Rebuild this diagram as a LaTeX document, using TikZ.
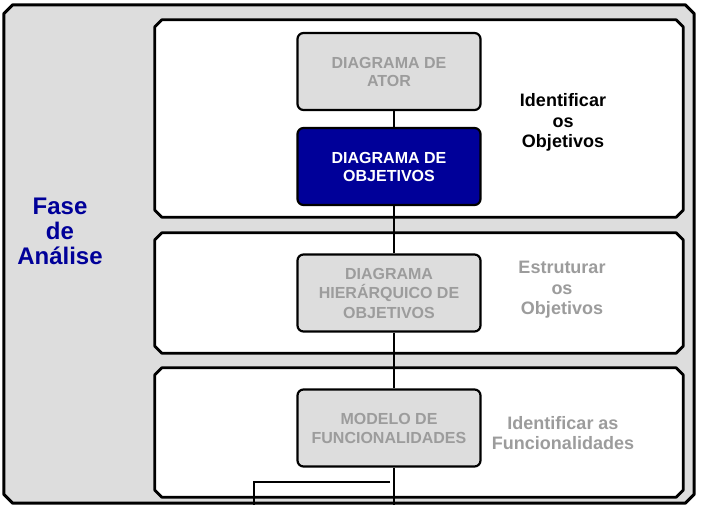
\documentclass[tikz,border=0pt]{standalone}
\usepackage{fontspec}
\setmainfont{Liberation Sans}
\definecolor{panelgray}{HTML}{DDDDDD}
\definecolor{textgray}{HTML}{9C9C9C}
\definecolor{deepnavy}{HTML}{000099}
\begin{document}
\begin{tikzpicture}[x=1pt,y=-1pt,
  area/.style={rectangle, draw=none, inner sep=0pt},
  phaseframe/.style={draw=black, line width=3pt, fill=panelgray, line join=round},
  stageframe/.style={draw=black, line width=2.8pt, fill=white, line join=round},
  diag/.style={rectangle, rounded corners=6pt, draw=black, line width=2.2pt,
    fill=panelgray, minimum width=183pt, minimum height=77pt,
    align=center, inner sep=0pt, text=textgray,
    font=\bfseries\fontsize{16}{19.5}\selectfont},
  diagactive/.style={diag, fill=deepnavy, text=white},
  steplabel/.style={align=center, inner sep=0pt,
    font=\bfseries\fontsize{18}{20.5}\selectfont},
  conn/.style={draw=black, line width=1.5pt},
  bracket/.style={draw=black, line width=2.4pt}]

\useasboundingbox (0,0) rectangle (702,505);

% outer phase frame and the three stage frames (areas, then cut-corner outlines)
\node[area, minimum width=690pt, minimum height=498pt] (fase) at (349,254) {};
\node[area, minimum width=528pt, minimum height=197pt] (stage1) at (419,118.5) {};
\node[area, minimum width=528pt, minimum height=120pt] (stage2) at (419,293) {};
\node[area, minimum width=528pt, minimum height=129pt] (stage3) at (419,432.5) {};

\draw[phaseframe]
  ([xshift=9pt]fase.north west) -- ([xshift=-9pt]fase.north east)
  -- ([yshift=-9pt]fase.north east) -- ([yshift=9pt]fase.south east)
  -- ([xshift=-9pt]fase.south east) -- ([xshift=9pt]fase.south west)
  -- ([yshift=9pt]fase.south west) -- ([yshift=-9pt]fase.north west) -- cycle;
\foreach \s in {stage1,stage2,stage3}{
  \draw[stageframe]
    ([xshift=7pt]\s.north west) -- ([xshift=-7pt]\s.north east)
    -- ([yshift=-7pt]\s.north east) -- ([yshift=7pt]\s.south east)
    -- ([xshift=-7pt]\s.south east) -- ([xshift=7pt]\s.south west)
    -- ([yshift=7pt]\s.south west) -- ([yshift=-7pt]\s.north west) -- cycle;
}

% phase title
\node[align=center, inner sep=0pt, text=deepnavy,
      font=\bfseries\fontsize{24}{25}\selectfont] (fasetitle) at (60,231)
  {Fase\\de\\Análise};

% diagrams
\node[diag] (ator) at (389,71.5) {DIAGRAMA DE\\[-1.5pt]ATOR};
\node[diagactive] (objetivos) at (389,166.5) {DIAGRAMA DE\\[-1.5pt]OBJETIVOS};
\node[diag] (hierarquico) at (389,293) {DIAGRAMA\\HIERÁRQUICO DE\\OBJETIVOS};
\node[diag] (modelo) at (389,428) {MODELO DE\\[-0.5pt]FUNCIONALIDADES};

% step descriptions
\node[steplabel, text=black] (passo1) at (563,122.4) {Identificar\\os\\Objetivos};
\node[steplabel, text=textgray] (passo2) at (562,290) {Estruturar\\os\\Objetivos};
\node[steplabel, text=textgray] (passo3) at (563,433.5) {Identificar as\\[-0.5pt]Funcionalidades};

% flow between diagrams
\coordinate (tail) at (394,505);
\draw[conn] ([xshift=5pt]ator.south) -- ([xshift=5pt]objetivos.north);
\draw[conn] ([xshift=5pt]objetivos.south) -- ([xshift=5pt]hierarquico.north);
\draw[conn] ([xshift=5pt]hierarquico.south) -- ([xshift=5pt]modelo.north);
\draw[conn] ([xshift=5pt]modelo.south) -- (tail);

% branch leaving the phase
\coordinate (branchR) at (390,482);
\coordinate (branchL) at (254,482);
\coordinate (branchEnd) at (254,505);
\draw[bracket] (branchR) -- (branchL) -- (branchEnd);
\end{tikzpicture}
\end{document}
